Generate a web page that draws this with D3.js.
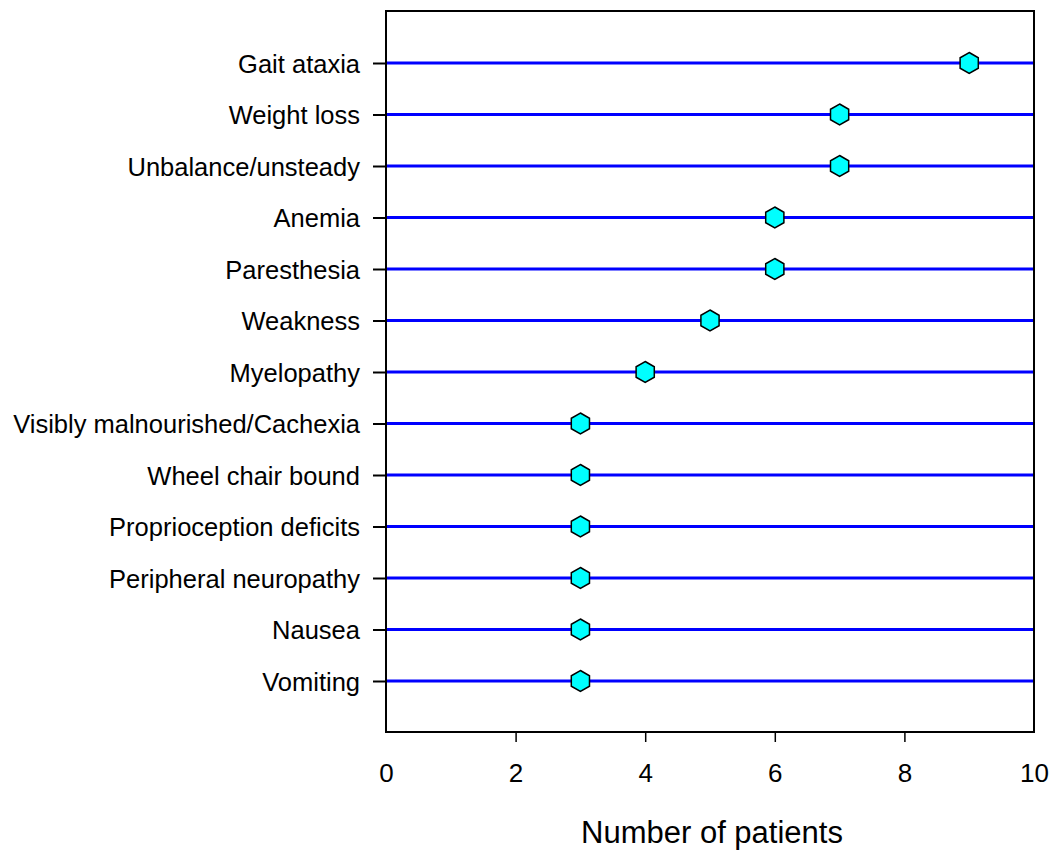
<!DOCTYPE html>
<html>
<head>
<meta charset="utf-8">
<script src="https://cdn.jsdelivr.net/npm/d3@7"></script>
<style>
  body { margin: 0; background: #fff; }
  svg text { font-family: "Liberation Sans", Arial, sans-serif; fill: #000; }
</style>
</head>
<body>
<div id="chart"></div>
<script>
const symptoms = ["Gait ataxia", "Weight loss", "Unbalance/unsteady", "Anemia", "Paresthesia",
  "Weakness", "Myelopathy", "Visibly malnourished/Cachexia", "Wheel chair bound",
  "Proprioception deficits", "Peripheral neuropathy", "Nausea", "Vomiting"];
const patients = [9, 7, 7, 6, 6, 5, 4, 3, 3, 3, 3, 3, 3];
const xTicks = [0, 2, 4, 6, 8, 10];

const width = 1052, height = 854;
const margin = {top: 11, right: 18, bottom: 122, left: 386};
const innerW = width - margin.left - margin.right;
const innerH = height - margin.top - margin.bottom;

const svg = d3.select("#chart").append("svg")
    .attr("width", width)
    .attr("height", height);

const g = svg.append("g")
    .attr("transform", `translate(${margin.left},${margin.top})`);

const x = d3.scaleLinear().domain([0, 10]).range([0, innerW]);
// rows spaced evenly, a bit of room above the first and below the last
const y = d3.scalePoint().domain(symptoms).range([52, 670]);

// blue lines
g.selectAll(".row-line")
    .data(symptoms)
    .enter()
    .append("line")
    .attr("x1", 0)
    .attr("x2", innerW)
    .attr("y1", d => y(d))
    .attr("y2", d => y(d))
    .attr("stroke", "#0000ff")
    .attr("stroke-width", 3);

// frame
g.append("rect")
    .attr("width", innerW)
    .attr("height", innerH)
    .attr("fill", "none")
    .attr("stroke", "#000")
    .attr("stroke-width", 2);

// y axis
const yAxis = g.append("g")
    .call(d3.axisLeft(y).tickSize(13).tickPadding(13));
yAxis.select(".domain").remove();
yAxis.selectAll("line").attr("stroke", "#000").attr("stroke-width", 2);
yAxis.selectAll("text").style("font-size", "25.5px").attr("dy", "0.37em");

// x axis
const xAxis = g.append("g")
    .attr("transform", `translate(0,${innerH})`)
    .call(d3.axisBottom(x).tickValues(xTicks).tickSize(10).tickPadding(22));
xAxis.select(".domain").remove();
xAxis.selectAll("line")
    .attr("stroke", "#000")
    .attr("stroke-width", 1.5)
    .attr("opacity", d => (d === 0 || d === 10) ? 0 : 1);
xAxis.selectAll("text").style("font-size", "26px");

// hexagon markers
const hexR = 10.5;
const hexPath = d3.range(6).map(i => {
    const a = Math.PI / 3 * i - Math.PI / 2;
    return [hexR * Math.cos(a), hexR * Math.sin(a)];
});
const hexLine = d3.line().curve(d3.curveLinearClosed);

g.selectAll(".marker")
    .data(symptoms.map((s, i) => ({s, v: patients[i]})))
    .enter()
    .append("path")
    .attr("class", "marker")
    .attr("transform", d => `translate(${x(d.v)},${y(d.s)})`)
    .attr("d", hexLine(hexPath))
    .attr("fill", "#00ffff")
    .attr("stroke", "#000")
    .attr("stroke-width", 1.5);

// axis title
svg.append("text")
    .attr("x", margin.left + innerW / 2 + 2)
    .attr("y", 843)
    .attr("text-anchor", "middle")
    .style("font-size", "31px")
    .text("Number of patients");
</script>
</body>
</html>
